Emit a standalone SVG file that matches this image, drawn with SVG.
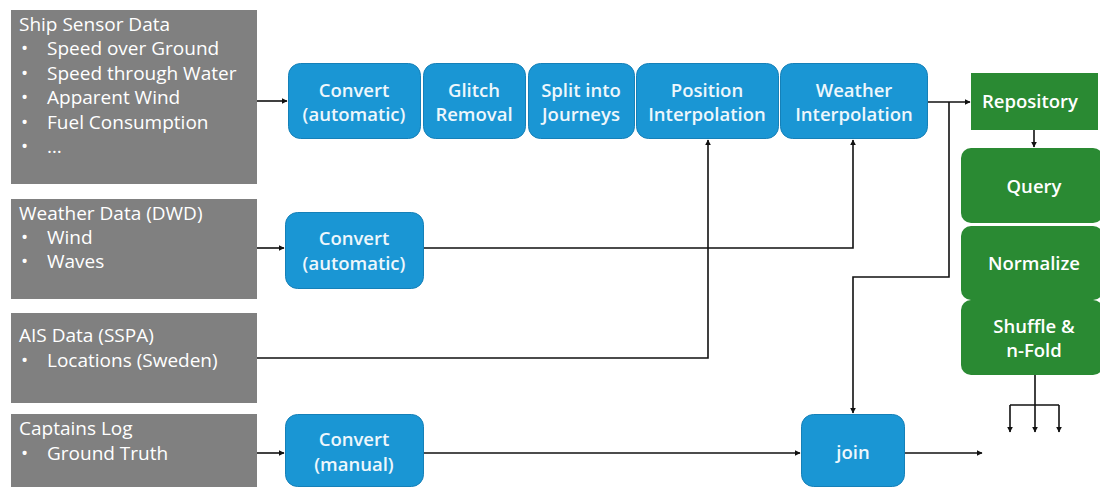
<svg xmlns="http://www.w3.org/2000/svg" width="1100" height="487" viewBox="0 0 1100 487">
<style>
.src{fill:#808080}
.blue{fill:#1a96d4;stroke:#1580b8;stroke-width:1}
.green{fill:#2a8a33}
.t{font-family:"Open Sans","Noto Sans",sans-serif;font-size:19px;fill:#ffffff}
.bt{font-family:"Open Sans","Noto Sans",sans-serif;font-size:18.5px;font-weight:600;fill:#eef7fc;text-anchor:middle}
.gt{font-family:"Open Sans","Noto Sans",sans-serif;font-size:18.5px;font-weight:600;fill:#ffffff;text-anchor:middle}
.ln{fill:none;stroke:#111;stroke-width:1.6}
</style>
<defs>
<marker id="ah" viewBox="0 0 10 10" refX="9" refY="5" markerWidth="6" markerHeight="6" markerUnits="userSpaceOnUse" orient="auto">
<path d="M0,0 L10,5 L0,10 z" fill="#111"/>
</marker>
</defs>
<rect width="1100" height="487" fill="#ffffff"/>

<g id="connectors">
<path class="ln" d="M257,101 L287,101" marker-end="url(#ah)"/>
<path class="ln" d="M257,248 L284,248" marker-end="url(#ah)"/>
<path class="ln" d="M423,248 L853,248 L853,140" marker-end="url(#ah)"/>
<path class="ln" d="M257,358 L708,358 L708,140" marker-end="url(#ah)"/>
<path class="ln" d="M257,453 L284,453" marker-end="url(#ah)"/>
<path class="ln" d="M423,453 L800,453" marker-end="url(#ah)"/>
<path class="ln" d="M905,453 L982,453" marker-end="url(#ah)"/>
<path class="ln" d="M927,102 L970,102" marker-end="url(#ah)"/>
<path class="ln" d="M949,102 L949,277 L853,277 L853,413" marker-end="url(#ah)"/>
<path class="ln" d="M1034,130 L1034,147" marker-end="url(#ah)"/>
<path class="ln" d="M1035,375 L1035,405"/>
<path class="ln" d="M1010,405 L1059,405"/>
<path class="ln" d="M1010,405 L1010,432" marker-end="url(#ah)"/>
<path class="ln" d="M1035,405 L1035,432" marker-end="url(#ah)"/>
<path class="ln" d="M1059,405 L1059,432" marker-end="url(#ah)"/>
</g>

<g id="ship-sensor">
<rect class="src" x="11" y="10" width="246" height="174"/>
<text class="t" x="19" y="31">Ship Sensor Data</text>
<text class="t" x="21" y="55">•</text><text class="t" x="47" y="55">Speed over Ground</text>
<text class="t" x="21" y="80">•</text><text class="t" x="47" y="80">Speed through Water</text>
<text class="t" x="21" y="104">•</text><text class="t" x="47" y="104">Apparent Wind</text>
<text class="t" x="21" y="129">•</text><text class="t" x="47" y="129">Fuel Consumption</text>
<text class="t" x="21" y="153">•</text><text class="t" x="47" y="153">…</text>
</g>

<g id="weather-data">
<rect class="src" x="11" y="199" width="246" height="100"/>
<text class="t" x="19" y="220">Weather Data (DWD)</text>
<text class="t" x="21" y="244">•</text><text class="t" x="47" y="244">Wind</text>
<text class="t" x="21" y="268">•</text><text class="t" x="47" y="268">Waves</text>
</g>

<g id="ais-data">
<rect class="src" x="11" y="313" width="246" height="90"/>
<text class="t" x="19" y="342">AIS Data (SSPA)</text>
<text class="t" x="21" y="367">•</text><text class="t" x="47" y="367">Locations (Sweden)</text>
</g>

<g id="captains-log">
<rect class="src" x="11" y="414" width="246" height="73"/>
<text class="t" x="19" y="435">Captains Log</text>
<text class="t" x="21" y="460">•</text><text class="t" x="47" y="460">Ground Truth</text>
</g>

<g id="convert-auto-1">
<rect class="blue" x="288.5" y="63.5" width="132" height="75" rx="12"/>
<text class="bt" x="354" y="97">Convert</text>
<text class="bt" x="354" y="121">(automatic)</text>
</g>
<g id="glitch-removal">
<rect class="blue" x="423.5" y="63.5" width="102" height="75" rx="12"/>
<text class="bt" x="474" y="97">Glitch</text>
<text class="bt" x="474" y="121">Removal</text>
</g>
<g id="split-journeys">
<rect class="blue" x="528.5" y="63.5" width="106" height="75" rx="12"/>
<text class="bt" x="581" y="97">Split into</text>
<text class="bt" x="581" y="121">Journeys</text>
</g>
<g id="position-interp">
<rect class="blue" x="636.5" y="63.5" width="142" height="75" rx="12"/>
<text class="bt" x="707" y="97">Position</text>
<text class="bt" x="707" y="121">Interpolation</text>
</g>
<g id="weather-interp">
<rect class="blue" x="780.5" y="63.5" width="147" height="75" rx="12"/>
<text class="bt" x="854" y="97">Weather</text>
<text class="bt" x="854" y="121">Interpolation</text>
</g>

<g id="convert-auto-2">
<rect class="blue" x="285.5" y="212.5" width="138" height="76" rx="12"/>
<text class="bt" x="354" y="245">Convert</text>
<text class="bt" x="354" y="270">(automatic)</text>
</g>

<g id="convert-manual">
<rect class="blue" x="285.5" y="414.5" width="138" height="72" rx="12"/>
<text class="bt" x="354" y="446">Convert</text>
<text class="bt" x="354" y="471">(manual)</text>
</g>

<g id="join">
<rect class="blue" x="801.5" y="414.5" width="103" height="72" rx="12"/>
<text class="bt" x="853" y="459">join</text>
</g>

<g id="repository">
<rect class="green" x="971" y="73" width="127" height="57"/>
<text class="gt" x="1030" y="108">Repository</text>
</g>
<g id="query">
<rect class="green" x="961" y="148" width="142" height="75" rx="10"/>
<text class="gt" x="1034" y="193">Query</text>
</g>
<g id="normalize">
<rect class="green" x="961" y="226" width="142" height="74" rx="10"/>
<text class="gt" x="1034" y="270">Normalize</text>
</g>
<g id="shuffle">
<rect class="green" x="961" y="300" width="142" height="75" rx="10"/>
<text class="gt" x="1034" y="333">Shuffle &amp;</text>
<text class="gt" x="1034" y="357">n-Fold</text>
</g>
</svg>
